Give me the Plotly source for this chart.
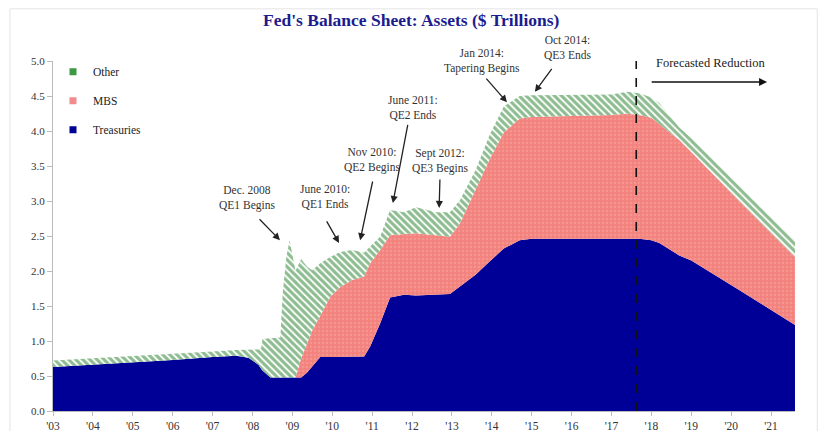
import plotly.graph_objects as go

# ---- data (trillions of dollars) ----
years = [2003.0, 2004.0, 2005.0, 2006.0, 2007.0, 2007.6, 2007.9, 2008.15, 2008.22, 2008.25,
         2008.45, 2008.7, 2008.76, 2008.85, 2008.93, 2009.0, 2009.08, 2009.22, 2009.37, 2009.5,
         2009.7, 2009.95, 2010.2, 2010.5, 2010.8, 2010.95, 2011.2, 2011.45, 2011.8, 2012.1,
         2012.6, 2012.95, 2013.2, 2013.6, 2013.95, 2014.3, 2014.7, 2015.0, 2016.0, 2017.0,
         2017.4, 2017.7, 2018.0, 2018.2, 2018.7, 2019.0, 2020.2, 2021.6]

treasuries = [0.63, 0.66, 0.70, 0.73, 0.77, 0.79, 0.76, 0.66, 0.60, 0.58,
              0.48, 0.48, 0.48, 0.48, 0.48, 0.48, 0.48, 0.48, 0.55, 0.64,
              0.77, 0.77, 0.77, 0.77, 0.78, 0.92, 1.25, 1.62, 1.66, 1.65,
              1.66, 1.67, 1.78, 1.95, 2.14, 2.32, 2.44, 2.46, 2.46, 2.46,
              2.46, 2.46, 2.44, 2.40, 2.22, 2.15, 1.73, 1.23]

mbs = [0.00, 0.00, 0.00, 0.00, 0.00, 0.00, 0.00, 0.00, 0.00, 0.00,
       0.00, 0.00, 0.00, 0.00, 0.00, 0.00, 0.00, 0.27, 0.40, 0.51,
       0.59, 0.86, 1.00, 1.10, 1.14, 1.19, 1.05, 0.89, 0.87, 0.89,
       0.85, 0.82, 0.90, 1.21, 1.46, 1.66, 1.74, 1.74, 1.75, 1.77,
       1.79, 1.77, 1.75, 1.70, 1.65, 1.55, 1.27, 0.97]

other = [0.09, 0.09, 0.08, 0.08, 0.08, 0.08, 0.12, 0.22, 0.30, 0.45,
         0.56, 0.57, 1.22, 1.72, 1.96, 1.77, 1.52, 1.42, 1.11, 0.86,
         0.75, 0.57, 0.50, 0.43, 0.34, 0.24, 0.19, 0.36, 0.31, 0.37,
         0.33, 0.35, 0.33, 0.29, 0.35, 0.37, 0.32, 0.31, 0.30, 0.29,
         0.31, 0.31, 0.29, 0.30, 0.18, 0.20, 0.22, 0.24]

tick_years = list(range(2003, 2022))
tick_labels = ["'%02d" % (y % 100) for y in tick_years]
y_ticks = [0.0, 0.5, 1.0, 1.5, 2.0, 2.5, 3.0, 3.5, 4.0, 4.5, 5.0]

forecast_start = 2017.62
Y_MAX = 5.0

events = [
    # (text, text_x, text_y, arrow_tail_x, arrow_tail_y, arrow_tip_x, arrow_tip_y)
    ("Dec. 2008<br>QE1 Begins", 2007.86, 3.04, 2008.14, 2.76, 2008.69, 2.44),
    ("June 2010:<br>QE1 Ends", 2009.82, 3.07, 2009.84, 2.73, 2010.17, 2.40),
    ("Nov 2010:<br>QE2 Begins", 2011.00, 3.59, 2011.02, 3.30, 2010.70, 2.44),
    ("June 2011:<br>QE2 Ends", 2012.02, 4.34, 2011.90, 4.11, 2011.52, 2.97),
    ("Sept 2012:<br>QE3 Begins", 2012.70, 3.57, 2012.70, 3.33, 2012.68, 2.90),
    ("Jan 2014:<br>Tapering Begins", 2013.75, 5.00, 2013.83, 4.77, 2014.38, 4.41),
    ("Oct 2014:<br>QE3 Ends", 2015.89, 5.19, 2015.53, 4.91, 2015.08, 4.56),
]

FONT = "Liberation Serif"

fig = go.Figure()

fig.add_trace(go.Scatter(
    x=years, y=treasuries, name="Treasuries", stackgroup="one", mode="lines",
    line=dict(width=0, color="#000096"), fillcolor="#000096",
    showlegend=False, hoverinfo="skip"))
fig.add_trace(go.Scatter(
    x=years, y=mbs, name="MBS", stackgroup="one", mode="lines",
    line=dict(width=0, color="#F3827E"), fillcolor="#F3827E",
    fillpattern=dict(shape=".", bgcolor="#F3827E", fgcolor="#F7A8A2", size=4, solidity=0.35),
    showlegend=False, hoverinfo="skip"))
fig.add_trace(go.Scatter(
    x=years, y=other, name="Other", stackgroup="one", mode="lines",
    line=dict(width=0, color="#1E7A24"), fillcolor="#1E7A24",
    fillpattern=dict(shape="\\", bgcolor="white", fgcolor="#1E7A24", size=5, solidity=0.65),
    showlegend=False, hoverinfo="skip"))

# legend entries (small square markers as in the reference)
for nm, col in [("Other", "#3C9A44"), ("MBS", "#F08C8C"), ("Treasuries", "#000096")]:
    fig.add_trace(go.Scatter(x=[None], y=[None], mode="markers", name=nm,
                             legendgroup=nm,
                             marker=dict(symbol="square", size=7, color=col)))

annotations = [dict(text="Fed's Balance Sheet: Assets ($ Trillions)", xref="paper", yref="paper",
                    x=0.483, y=1.117, xanchor="center", yanchor="middle", showarrow=False,
                    font=dict(family=FONT, size=17.5, color="#1C1C8E", weight="bold"))]

for txt, tx, ty, ax, ay, hx, hy in events:
    annotations.append(dict(text=txt, x=tx, y=ty / Y_MAX, xref="x", yref="paper",
                            showarrow=False, xanchor="center", yanchor="middle",
                            font=dict(family=FONT, size=11.5, color="#333333")))
    annotations.append(dict(text="", x=hx, y=hy, ax=ax, ay=ay, xref="x", yref="y",
                            axref="x", ayref="y", showarrow=True, arrowhead=2,
                            arrowsize=1.1, arrowwidth=1.3, arrowcolor="#222222"))

annotations.append(dict(text="Forecasted Reduction", x=2019.47, y=4.97 / Y_MAX, xref="x",
                        yref="paper", showarrow=False, xanchor="center", yanchor="middle",
                        font=dict(family=FONT, size=12.5, color="#222222")))
annotations.append(dict(text="", x=2020.9, y=4.70, ax=2017.97, ay=4.70, xref="x", yref="y",
                        axref="x", ayref="y", showarrow=True, arrowhead=2, arrowsize=1,
                        arrowwidth=1.6, arrowcolor="#111111"))

shapes = [
    dict(type="line", xref="x", yref="y", x0=forecast_start, x1=forecast_start,
         y0=0, y1=5.05, line=dict(color="#111111", width=1.6, dash="dash")),
    dict(type="path", xref="paper", yref="paper",
         path="M -0.058,-0.06 L -0.058,1.149 L 1.03,1.149 L 1.03,-0.06",
         line=dict(color="#E4E4E4", width=1)),
]

fig.update_layout(
    width=827, height=431,
    margin=dict(l=53, r=32, t=61, b=20, autoexpand=False),
    paper_bgcolor="white", plot_bgcolor="white",
    font=dict(family=FONT, size=11, color="#333333"),
    showlegend=True,
    legend=dict(x=0.0, y=1.011, xanchor="left", yanchor="top", traceorder="grouped",
                tracegroupgap=10, bgcolor="rgba(0,0,0,0)",
                font=dict(family=FONT, size=11.5, color="#222222")),
    annotations=annotations,
    shapes=shapes,
    xaxis=dict(range=[2003, 2021.6], tickmode="array", tickvals=tick_years,
               ticktext=tick_labels, showgrid=False, zeroline=False,
               showline=True, linecolor="#BBBBBB", linewidth=1,
               ticks="outside", ticklen=4, tickcolor="#BBBBBB",
               tickfont=dict(family=FONT, size=11.5, color="#333333")),
    yaxis=dict(range=[0, Y_MAX], tickmode="array", tickvals=y_ticks,
               ticktext=["%.1f" % v for v in y_ticks], showgrid=False, zeroline=False,
               showline=True, linecolor="#BBBBBB", linewidth=1,
               ticks="outside", ticklen=5, tickcolor="#BBBBBB",
               tickfont=dict(family=FONT, size=11, color="#333333")),
)

fig.write_html("out.html", config={"displayModeBar": False},
               post_script="document.body.style.margin='0';document.body.style.overflow='hidden';")
